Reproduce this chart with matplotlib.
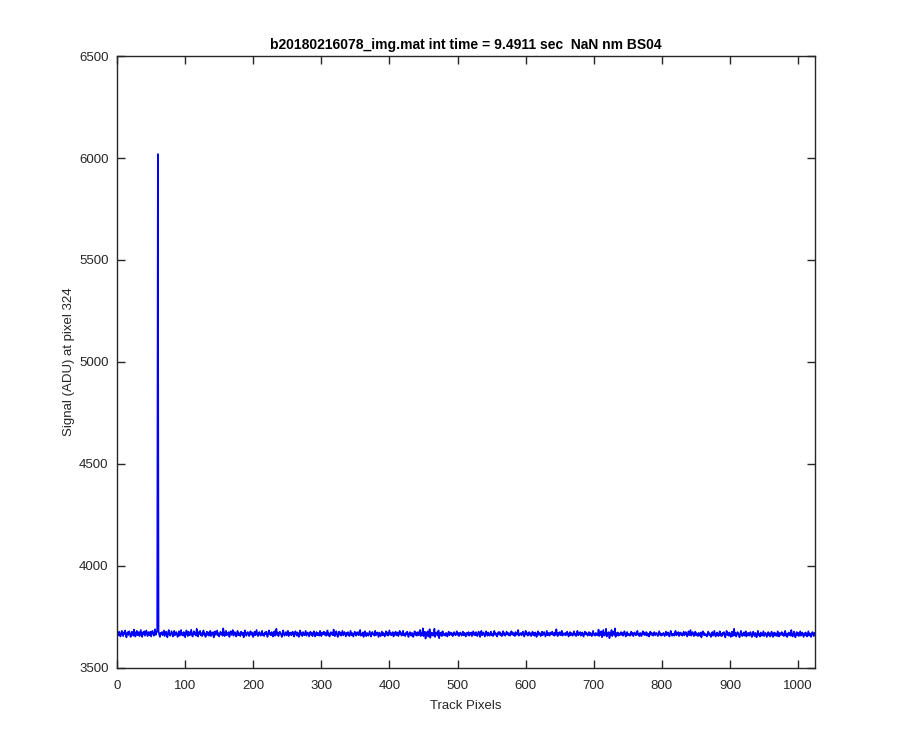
import matplotlib
matplotlib.use("Agg")
import matplotlib.pyplot as plt
import numpy as np

plt.rcParams['font.family'] = ['Liberation Sans', 'DejaVu Sans']

title = "b20180216078_img.mat int time = 9.4911 sec  NaN nm BS04"
xlabel = "Track Pixels"
ylabel = "Signal (ADU) at pixel 324"
xticks = [0, 100, 200, 300, 400, 500, 600, 700, 800, 900, 1000]
yticks = [3500, 4000, 4500, 5000, 5500, 6000, 6500]

# signal per track pixel (1..1024)
signal = [
3670,3658,3676,3664,3652,3668,3680,3662,3654,3672,3666,3682,3656,3648,3670,3674,
3660,3678,3666,3650,3664,3676,3668,3656,3686,3662,3652,3670,3680,3658,3666,3674,
3654,3668,3684,3660,3650,3672,3664,3678,3656,3668,3682,3662,3654,3674,3666,3658,
3676,3652,3666,3680,3670,3656,3664,3688,3660,3672,3676,6020,3678,3662,3650,3670,
3664,3674,3658,3670,3682,3654,3666,3676,3660,3648,3672,3684,3662,3656,3668,3678,
3666,3652,3670,3680,3658,3668,3674,3662,3650,3666,3678,3656,3672,3684,3660,3668,
3656,3674,3662,3648,3670,3682,3664,3654,3676,3666,3658,3672,3686,3660,3652,3668,
3678,3662,3670,3656,3690,3666,3652,3674,3664,3680,3658,3668,3654,3672,3682,3660,
3668,3650,3664,3676,3660,3672,3656,3666,3680,3654,3670,3662,3674,3648,3666,3678,
3660,3672,3682,3658,3668,3652,3664,3676,3662,3670,3656,3692,3666,3654,3672,3680,
3658,3668,3662,3674,3650,3666,3678,3660,3670,3684,3656,3664,3674,3662,3652,3668,
3680,3658,3670,3664,3654,3676,3666,3660,3672,3648,3668,3682,3662,3656,3670,3674,
3664,3654,3668,3678,3660,3672,3662,3650,3666,3676,3658,3670,3684,3660,3654,3668,
3674,3662,3656,3670,3680,3658,3666,3654,3672,3664,3676,3660,3650,3668,3682,3662,
3670,3658,3674,3664,3652,3668,3678,3656,3666,3690,3660,3672,3654,3664,3676,3668,
3660,3650,3670,3682,3662,3656,3668,3674,3658,3666,3680,3654,3670,3662,3672,3658,
3666,3676,3660,3652,3668,3678,3664,3656,3672,3662,3650,3670,3682,3660,3668,3654,
3674,3664,3658,3670,3680,3656,3666,3672,3662,3652,3668,3676,3660,3670,3654,3666,
3678,3662,3652,3668,3674,3658,3670,3664,3656,3680,3666,3654,3672,3662,3668,3676,
3660,3670,3656,3666,3682,3658,3668,3652,3664,3674,3662,3670,3658,3686,3660,3654,
3668,3678,3662,3650,3666,3676,3660,3672,3656,3668,3680,3658,3664,3674,3662,3652,
3670,3660,3674,3666,3654,3668,3680,3658,3670,3662,3652,3666,3676,3664,3656,3672,
3662,3674,3658,3668,3684,3656,3666,3660,3672,3650,3668,3678,3662,3654,3670,3664,
3656,3668,3678,3660,3652,3670,3674,3662,3666,3656,3680,3658,3668,3672,3660,3650,
3672,3662,3654,3668,3676,3658,3670,3664,3652,3666,3678,3660,3672,3656,3668,3682,
3660,3670,3658,3666,3674,3652,3668,3662,3676,3658,3664,3672,3654,3668,3680,3662,
3668,3656,3672,3680,3658,3666,3654,3670,3662,3676,3660,3650,3666,3674,3664,3656,
3670,3662,3650,3666,3678,3660,3672,3656,3668,3674,3658,3664,3684,3654,3668,3660,
3692,3654,3668,3676,3642,3670,3660,3678,3652,3666,3688,3646,3672,3660,3670,3656,
3664,3690,3650,3670,3662,3674,3656,3682,3644,3668,3660,3672,3654,3678,3664,3658,
3666,3656,3670,3662,3652,3668,3676,3658,3666,3672,3660,3668,3654,3664,3674,3662,
3658,3668,3678,3660,3670,3654,3666,3672,3662,3656,3668,3676,3658,3670,3664,3652,
3670,3660,3666,3674,3656,3668,3662,3672,3654,3666,3678,3660,3668,3658,3674,3664,
3654,3668,3676,3662,3650,3670,3680,3658,3666,3672,3660,3652,3668,3678,3662,3656,
3672,3662,3656,3668,3676,3658,3666,3654,3670,3680,3660,3668,3662,3652,3666,3674,
3662,3674,3658,3666,3654,3670,3678,3660,3668,3656,3664,3676,3662,3670,3658,3668,
3656,3668,3678,3662,3672,3658,3666,3654,3674,3664,3660,3670,3684,3656,3666,3662,
3670,3658,3666,3676,3660,3652,3668,3680,3662,3670,3656,3666,3674,3660,3668,3654,
3664,3676,3660,3668,3656,3672,3662,3650,3666,3678,3660,3670,3664,3654,3668,3676,
3658,3668,3674,3662,3652,3666,3680,3658,3670,3664,3656,3672,3662,3668,3676,3660,
3668,3656,3672,3660,3688,3664,3654,3670,3662,3674,3658,3666,3680,3656,3668,3662,
3660,3670,3658,3668,3676,3662,3652,3666,3674,3658,3670,3664,3656,3668,3678,3660,
3666,3654,3670,3680,3658,3668,3662,3674,3656,3666,3672,3660,3652,3668,3676,3662,
3672,3662,3656,3666,3674,3658,3670,3664,3654,3668,3680,3660,3666,3656,3670,3662,
3658,3668,3686,3654,3672,3660,3678,3648,3666,3684,3656,3670,3660,3690,3652,3668,
3662,3674,3644,3670,3658,3684,3654,3666,3676,3660,3692,3650,3668,3662,3672,3656,
3668,3658,3664,3674,3660,3670,3656,3666,3678,3662,3652,3668,3674,3658,3666,3662,
3656,3668,3676,3660,3670,3654,3666,3672,3662,3658,3668,3680,3660,3664,3654,3670,
3664,3654,3668,3678,3662,3672,3658,3666,3674,3656,3668,3662,3652,3666,3676,3660,
3670,3660,3656,3668,3674,3658,3664,3670,3662,3654,3666,3678,3660,3668,3656,3664,
3660,3670,3662,3654,3668,3676,3658,3666,3672,3660,3652,3668,3680,3662,3656,3666,
3666,3656,3670,3680,3658,3668,3662,3674,3654,3664,3672,3660,3668,3656,3666,3676,
3658,3668,3674,3662,3652,3666,3678,3658,3670,3684,3656,3664,3674,3662,3654,3668,
3676,3658,3668,3662,3654,3670,3664,3656,3672,3648,3666,3678,3660,3670,3658,3664,
3662,3652,3666,3676,3660,3668,3658,3650,3664,3674,3656,3668,3680,3658,3652,3666,
3672,3660,3654,3668,3678,3656,3664,3654,3670,3662,3674,3658,3648,3666,3680,3660,
3668,3656,3672,3662,3650,3666,3676,3654,3664,3690,3658,3670,3652,3662,3674,3666,
3658,3648,3668,3680,3660,3654,3666,3672,3656,3664,3678,3652,3668,3660,3670,3656,
3664,3674,3658,3650,3666,3676,3662,3654,3670,3660,3648,3668,3680,3658,3666,3652,
3672,3662,3656,3668,3678,3654,3664,3670,3660,3650,3666,3674,3658,3668,3652,3664,
3676,3660,3650,3666,3672,3656,3668,3662,3654,3678,3664,3652,3670,3660,3666,3674,
3658,3668,3654,3664,3680,3656,3666,3650,3662,3672,3660,3668,3656,3684,3658,3652,
3666,3676,3660,3648,3664,3674,3658,3670,3654,3666,3678,3656,3662,3672,3660,3650,
3668,3658,3672,3664,3652,3666,3678,3656,3668,3660,3650,3664,3674,3662,3654,3670,
]

x = np.arange(1, len(signal) + 1)

fig = plt.figure(figsize=(9, 7.5), dpi=100)
ax = fig.add_axes([0.13, 0.11, 0.775, 0.815])
ax.plot(x, signal, color=(0, 0, 1), linewidth=1.2)

ax.set_xlim(0, 1024)
ax.set_ylim(3500, 6500)
ax.set_xticks(xticks)
ax.set_yticks(yticks)

axcol = (0.15, 0.15, 0.15)
for s in ax.spines.values():
    s.set_color(axcol)
    s.set_linewidth(1.0)
ax.tick_params(direction='in', top=True, right=True, length=6, width=1.0,
               colors=axcol, labelsize=9.5)
ax.tick_params(axis='x', pad=9)
ax.tick_params(axis='y', pad=6)
ax.set_xlabel(xlabel, fontsize=9.5, color=axcol, labelpad=6)
ax.set_ylabel(ylabel, fontsize=9.5, color=axcol, labelpad=3)
ax.set_title(title, fontsize=10, fontweight='bold', color='black', pad=5)

fig.savefig("out.png", dpi=100)
